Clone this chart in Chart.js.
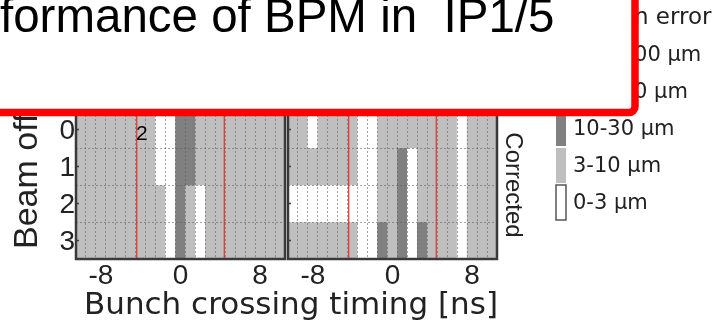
<!DOCTYPE html>
<html>
<head>
<meta charset="utf-8">
<script src="https://cdn.jsdelivr.net/npm/chart.js@4.4.1/dist/chart.umd.min.js"></script>
<style>
  html, body { margin: 0; padding: 0; background: #ffffff; }
  canvas { display: block; }
</style>
</head>
<body>
<canvas id="c" width="715" height="326"></canvas>
<script>
// ---------------- data ----------------
const crossingNs = [-10, -9, -8, -7, -6, -5, -4, -3, -2, -1, 0, 1, 2, 3, 4, 5, 6, 7, 8, 9, 10];
const offsetRows = [0, 1, 2, 3];
const xTickLabels = [-8, 0, 8];
const errorBins = ['0-3 µm', '3-10 µm', '10-30 µm', '30-100 µm', '100-300 µm'];
const legendTitle = 'Position error';

// error class per crossing (index into errorBins), left panel
const rawRow0 = [1, 1, 1, 1, 1, 1, 1, 1, 0, 0, 2, 2, 1, 1, 1, 1, 1, 1, 1, 1, 1];
const rawRow1 = [1, 1, 1, 1, 1, 1, 1, 1, 0, 0, 2, 2, 1, 1, 1, 1, 1, 1, 1, 1, 1];
const rawRow2 = [1, 1, 1, 1, 1, 1, 1, 1, 1, 0, 2, 1, 0, 1, 1, 1, 1, 1, 1, 1, 1];
const rawRow3 = [1, 1, 1, 1, 1, 1, 1, 1, 1, 0, 2, 1, 0, 1, 1, 1, 1, 1, 1, 1, 1];
// right panel ("Corrected")
const corrRow0 = [1, 1, 0, 1, 1, 1, 1, 0, 0, 1, 1, 1, 1, 1, 1, 1, 1, 0, 1, 1, 1];
const corrRow1 = [1, 1, 1, 1, 1, 1, 1, 0, 0, 1, 1, 2, 0, 1, 1, 1, 1, 0, 1, 1, 1];
const corrRow2 = [0, 0, 0, 0, 0, 0, 0, 0, 0, 1, 1, 2, 0, 1, 1, 1, 1, 0, 1, 1, 1];
const corrRow3 = [1, 1, 1, 1, 1, 1, 1, 0, 0, 2, 1, 2, 0, 2, 1, 1, 1, 0, 1, 1, 1];

const timingWindowNs = [-4.4, 4.4];

const titleText = 'formance of BPM in  IP1/5';
const xTitleText = 'Bunch crossing timing [ns]';
const yTitleText = 'Beam offset [mm]';
const panelLabel = 'Corrected';
const noteMark = '2';

// ---------------- style ----------------
const binColors = ['#ffffff', '#bfbfbf', '#808080', '#404040', '#000000'];
const gridColor = 'rgba(90,90,90,0.55)';
const inkColor = '#222222';
const tickFont = { family: 'Liberation Sans', size: 28 };

const rawRows = [rawRow0, rawRow1, rawRow2, rawRow3];
const corrRows = [corrRow0, corrRow1, corrRow2, corrRow3];

function rowDataset(codes, row, axisId) {
  return {
    type: 'bar',
    xAxisID: axisId,
    yAxisID: 'y',
    data: crossingNs.map(ns => ({ x: ns, y: [row - 0.5, row + 0.5] })),
    backgroundColor: codes.map(c => binColors[c]),
    borderWidth: 0,
    barPercentage: 1,
    categoryPercentage: 1,
    grouped: false,
    order: 2
  };
}

function windowLine(ns, axisId) {
  return {
    type: 'line',
    xAxisID: axisId,
    yAxisID: 'y',
    data: [{ x: ns, y: offsetRows[0] - 0.5 }, { x: ns, y: offsetRows[offsetRows.length - 1] + 0.5 }],
    borderColor: '#e53935',
    borderWidth: 1.3,
    pointRadius: 0,
    fill: false,
    order: 1
  };
}

const datasets = [];
offsetRows.forEach((r, i) => datasets.push(rowDataset(rawRows[i], r, 'x1')));
offsetRows.forEach((r, i) => datasets.push(rowDataset(corrRows[i], r, 'x2')));
timingWindowNs.forEach(ns => { datasets.push(windowLine(ns, 'x1')); datasets.push(windowLine(ns, 'x2')); });

function xAxis(min, max) {
  return {
    type: 'linear',
    position: 'bottom',
    stack: 'panels',
    min: min,
    max: max,
    offset: false,
    afterBuildTicks: s => { s.ticks = crossingNs.map(v => ({ value: v })); },
    afterFit: s => { s.height = 67; },
    ticks: {
      autoSkip: false,
      maxRotation: 0,
      minRotation: 0,
      padding: 0,
      font: tickFont,
      color: inkColor,
      callback: v => (xTickLabels.includes(v) ? String(v) : '')
    },
    grid: { offset: true, color: gridColor, lineWidth: 1, drawTicks: false, z: 1 },
    border: { display: false, dash: [2, 2] }
  };
}

const decor = {
  id: 'decor',
  afterDraw(chart) {
    const { ctx } = chart;
    const { x1, x2, y } = chart.scales;
    const lo = crossingNs[0] - 0.5, hi = crossingNs[crossingNs.length - 1] + 0.5;
    const top = y.getPixelForValue(offsetRows[0] - 0.5);
    const bot = y.getPixelForValue(offsetRows[offsetRows.length - 1] + 0.5);
    ctx.save();
    // panel frames
    ctx.strokeStyle = '#3a3a3a';
    ctx.lineWidth = 2.5;
    [x1, x2].forEach(s => {
      const l = s.getPixelForValue(lo), r = s.getPixelForValue(hi);
      ctx.strokeRect(l, top, r - l, bot - top);
      offsetRows.forEach(v => {
        const py = y.getPixelForValue(v);
        ctx.beginPath();
        ctx.moveTo(l, py);
        ctx.lineTo(l + 3, py);
        ctx.lineWidth = 1.5;
        ctx.stroke();
      });
      ctx.lineWidth = 2.5;
    });
    // note mark
    ctx.fillStyle = '#000';
    ctx.font = '21px "Liberation Sans"';
    ctx.textAlign = 'left';
    ctx.textBaseline = 'alphabetic';
    ctx.fillText(noteMark, 136, 140);
    // x title
    ctx.fillStyle = inkColor;
    ctx.font = '31px "DejaVu Sans"';
    ctx.textAlign = 'center';
    ctx.fillText(xTitleText, 291, 314);
    // y title
    ctx.save();
    ctx.translate(37, 249);
    ctx.rotate(-Math.PI / 2);
    ctx.font = '34px "Liberation Sans"';
    ctx.textAlign = 'left';
    ctx.fillText(yTitleText, 0, 0);
    ctx.restore();
    // legend (colour key)
    ctx.font = '21px "DejaVu Sans"';
    ctx.textAlign = 'left';
    ctx.textBaseline = 'middle';
    errorBins.forEach((label, i) => {
      const cy = 202.5 - 37 * i;
      ctx.fillStyle = binColors[i];
      ctx.fillRect(556, cy - 17.5, 10, 35);
      if (i === 0) {
        ctx.strokeStyle = '#555';
        ctx.lineWidth = 1.5;
        ctx.strokeRect(556, cy - 17.5, 10, 35);
      }
      ctx.fillStyle = inkColor;
      ctx.fillText(label, 573, cy + 1);
    });
    ctx.font = '23px "DejaVu Sans"';
    ctx.fillText(legendTitle, 559, 18);
    // slide title box overlay
    ctx.beginPath();
    ctx.roundRect(-20, -20, 655, 132.5, 6);
    ctx.fillStyle = '#ffffff';
    ctx.fill();
    ctx.strokeStyle = '#ff0000';
    ctx.lineWidth = 7.5;
    ctx.stroke();
    ctx.fillStyle = '#000';
    ctx.font = '47.5px "Liberation Sans"';
    ctx.textAlign = 'left';
    ctx.textBaseline = 'alphabetic';
    ctx.fillText(titleText, 0, 32);
    ctx.restore();
  }
};

new Chart(document.getElementById('c'), {
  type: 'bar',
  data: { datasets },
  options: {
    responsive: false,
    animation: false,
    layout: { padding: { top: 111, left: 0, right: 188, bottom: 0 } },
    plugins: { legend: { display: false }, tooltip: { enabled: false }, title: { display: false } },
    scales: {
      x1: xAxis(-10.5, 10.65),
      x2: xAxis(-10.65, 10.5),
      y: {
        type: 'linear',
        position: 'left',
        min: -0.5,
        max: 3.5,
        reverse: true,
        afterBuildTicks: s => { s.ticks = offsetRows.map(v => ({ value: v })); },
        afterFit: s => { s.width = 76; },
        ticks: { padding: 1, labelOffset: 2, font: tickFont, color: inkColor },
        grid: { offset: true, color: gridColor, lineWidth: 1, drawTicks: false, z: 1 },
        border: { display: false, dash: [2, 2] }
      },
      yR: {
        type: 'linear',
        position: 'right',
        min: -0.5,
        max: 3.5,
        afterFit: s => { s.width = 30; },
        ticks: { display: false },
        grid: { display: false },
        border: { display: false },
        title: {
          display: true,
          text: panelLabel,
          font: { family: 'Liberation Sans', size: 24 },
          color: inkColor,
          padding: 0
        }
      }
    }
  },
  plugins: [decor]
});
</script>
</body>
</html>
